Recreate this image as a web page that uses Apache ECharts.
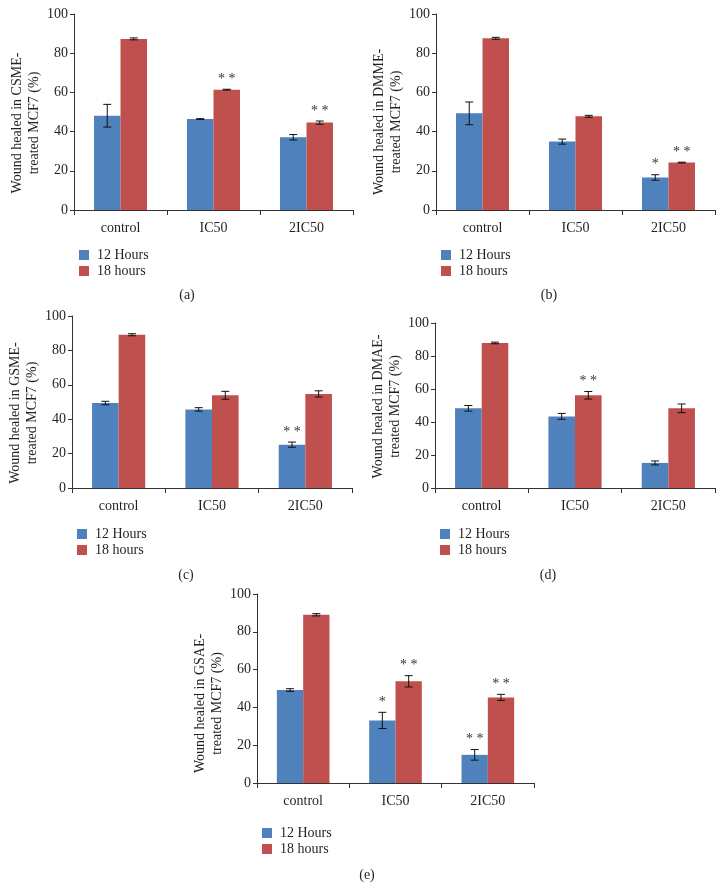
<!DOCTYPE html>
<html>
<head>
<meta charset="utf-8">
<script src="https://cdn.jsdelivr.net/npm/echarts@6/dist/echarts.min.js"></script>
<style>
  html, body { margin: 0; padding: 0; background: #fff; }
  #main { width: 725px; height: 896px; }
</style>
</head>
<body>
<div id="main"></div>
<script>
// data
const categories = ['control', 'IC50', '2IC50']
const seriesNames = ['12 Hours', '18 hours']

const csme12 = [48.1, 46.4, 37.1]
const csme12Err = [5.8, 0.2, 1.4]
const csme12Sig = ['', '', '']
const csme18 = [87.3, 61.4, 44.6]
const csme18Err = [0.5, 0.2, 0.8]
const csme18Sig = ['', '**', '**']

const dmme12 = [49.3, 34.9, 16.6]
const dmme12Err = [5.8, 1.3, 1.4]
const dmme12Sig = ['', '', '*']
const dmme18 = [87.6, 47.8, 24.2]
const dmme18Err = [0.5, 0.5, 0.2]
const dmme18Sig = ['', '', '**']

const gsme12 = [49.4, 45.7, 25.2]
const gsme12Err = [1.0, 1.0, 1.5]
const gsme12Sig = ['', '', '**']
const gsme18 = [89.1, 53.9, 54.7]
const gsme18Err = [0.6, 2.3, 1.8]
const gsme18Sig = ['', '', '']

const dmae12 = [48.3, 43.4, 15.2]
const dmae12Err = [1.7, 1.8, 1.2]
const dmae12Sig = ['', '', '']
const dmae18 = [87.9, 56.2, 48.3]
const dmae18Err = [0.5, 2.3, 2.6]
const dmae18Sig = ['', '**', '']

const gsae12 = [49.2, 33.1, 14.9]
const gsae12Err = [0.7, 4.3, 2.8]
const gsae12Sig = ['', '*', '**']
const gsae18 = [89.0, 53.8, 45.3]
const gsae18Err = [0.6, 3.0, 1.6]
const gsae18Sig = ['', '**', '**']

const yTitles = [
  'Wound healed in CSME-\ntreated MCF7 (%)',
  'Wound healed in DMME-\ntreated MCF7 (%)',
  'Wound healed in GSME-\ntreated MCF7 (%)',
  'Wound healed in DMAE-\ntreated MCF7 (%)',
  'Wound healed in GSAE-\ntreated MCF7 (%)',
]
const captions = ['(a)', '(b)', '(c)', '(d)', '(e)']

const panelData = [
  [csme12, csme12Err, csme12Sig, csme18, csme18Err, csme18Sig],
  [dmme12, dmme12Err, dmme12Sig, dmme18, dmme18Err, dmme18Sig],
  [gsme12, gsme12Err, gsme12Sig, gsme18, gsme18Err, gsme18Sig],
  [dmae12, dmae12Err, dmae12Sig, dmae18, dmae18Err, dmae18Sig],
  [gsae12, gsae12Err, gsae12Sig, gsae18, gsae18Err, gsae18Sig],
]

// layout (pixels); nameShift moves the y title down
const layout = [
  { left: 74, top: 14, width: 279, height: 196, legendTop: 243, capX: 182, capY: 283, nameShift: 11 },
  { left: 436, top: 14, width: 279, height: 196, legendTop: 243, capX: 544, capY: 283, nameShift: 10 },
  { left: 72, top: 316, width: 280, height: 172, legendTop: 522, capX: 181, capY: 563, nameShift: 11 },
  { left: 435, top: 323, width: 280, height: 165, legendTop: 522, capX: 543, capY: 563, nameShift: 1 },
  { left: 257, top: 594, width: 277, height: 189, legendTop: 821, capX: 362, capY: 863, nameShift: 15 },
]

const colors = ['#4f81bd', '#c0504d']
const font = 'Liberation Serif'
const fs = 14
const textColor = '#231f20'
const catGap = 0.43

const chart = echarts.init(document.getElementById('main'), null, { renderer: 'canvas' })

const grid = []
const xAxis = []
const yAxis = []
const series = []
const legend = []
const title = []

layout.forEach((p, i) => {
  grid.push({ left: p.left, top: p.top, width: p.width, height: p.height })
  xAxis.push({
    type: 'category',
    gridIndex: i,
    data: categories,
    axisLine: { lineStyle: { color: '#333', width: 1 } },
    axisTick: { show: true, length: 5, lineStyle: { color: '#333' } },
    axisLabel: { fontFamily: font, fontSize: fs, color: textColor, margin: 11 },
  })
  yAxis.push({
    type: 'value',
    gridIndex: i,
    min: 0,
    max: 100,
    interval: 20,
    name: yTitles[i],
    nameLocation: 'middle',
    nameRotate: 90,
    nameGap: 31,
    nameTextStyle: {
      fontFamily: font, fontSize: fs, color: textColor, lineHeight: 17,
      padding: [0, p.nameShift * 2, 0, 0],
    },
    axisLine: { show: true, lineStyle: { color: '#333', width: 1 } },
    axisTick: { show: true, length: 4, lineStyle: { color: '#333' } },
    axisLabel: { fontFamily: font, fontSize: fs, color: textColor, margin: 6 },
    splitLine: { show: false },
  })
  const d = panelData[i]
  for (let s = 0; s < 2; s++) {
    const vals = d[s * 3]
    const errs = d[s * 3 + 1]
    const sigs = d[s * 3 + 2]
    series.push({
      name: seriesNames[s],
      type: 'bar',
      xAxisIndex: i,
      yAxisIndex: i,
      data: vals,
      barGap: '0%',
      barCategoryGap: (catGap * 100) + '%',
      itemStyle: { color: colors[s] },
    })
    series.push({
      type: 'custom',
      xAxisIndex: i,
      yAxisIndex: i,
      silent: true,
      z: 5,
      data: vals.map((v, k) => [k, v, errs[k], sigs[k]]),
      renderItem: (params, api) => {
        const k = api.value(0)
        const v = api.value(1)
        const e = api.value(2)
        const sig = api.value(3)
        const cw = api.size([1, 0])[0]
        const bw = cw * (1 - catGap) / 2
        const cx = api.coord([k, 0])[0] + (s === 0 ? -bw / 2 : bw / 2)
        const top = api.coord([k, v + e])[1]
        const bot = api.coord([k, v - e])[1]
        const cap = 4
        const ls = { stroke: '#111', lineWidth: 1 }
        const children = [
          { type: 'line', shape: { x1: cx, y1: top, x2: cx, y2: bot }, style: ls },
          { type: 'line', shape: { x1: cx - cap, y1: top, x2: cx + cap, y2: top }, style: ls },
          { type: 'line', shape: { x1: cx - cap, y1: bot, x2: cx + cap, y2: bot }, style: ls },
        ]
        if (sig) {
          children.push({
            type: 'text',
            style: {
              x: cx, y: top - 3, text: sig.split('').join(' '),
              align: 'center', verticalAlign: 'bottom',
              font: fs + 'px "' + font + '"', fill: '#333',
            },
          })
        }
        return { type: 'group', children }
      },
    })
  }
  legend.push({
    data: seriesNames,
    orient: 'vertical',
    left: p.left,
    top: p.legendTop,
    icon: 'rect',
    itemWidth: 10,
    itemHeight: 10,
    itemGap: 2,
    selectedMode: false,
    textStyle: { fontFamily: font, fontSize: fs, color: textColor, padding: [0, 0, 0, 3] },
  })
  title.push({
    text: captions[i],
    left: p.capX,
    top: p.capY,
    textAlign: 'center',
    textStyle: { fontFamily: font, fontSize: fs, fontWeight: 'normal', color: textColor },
  })
})

chart.setOption({
  animation: false,
  color: colors,
  title,
  legend,
  grid,
  xAxis,
  yAxis,
  series,
})
</script>
</body>
</html>
